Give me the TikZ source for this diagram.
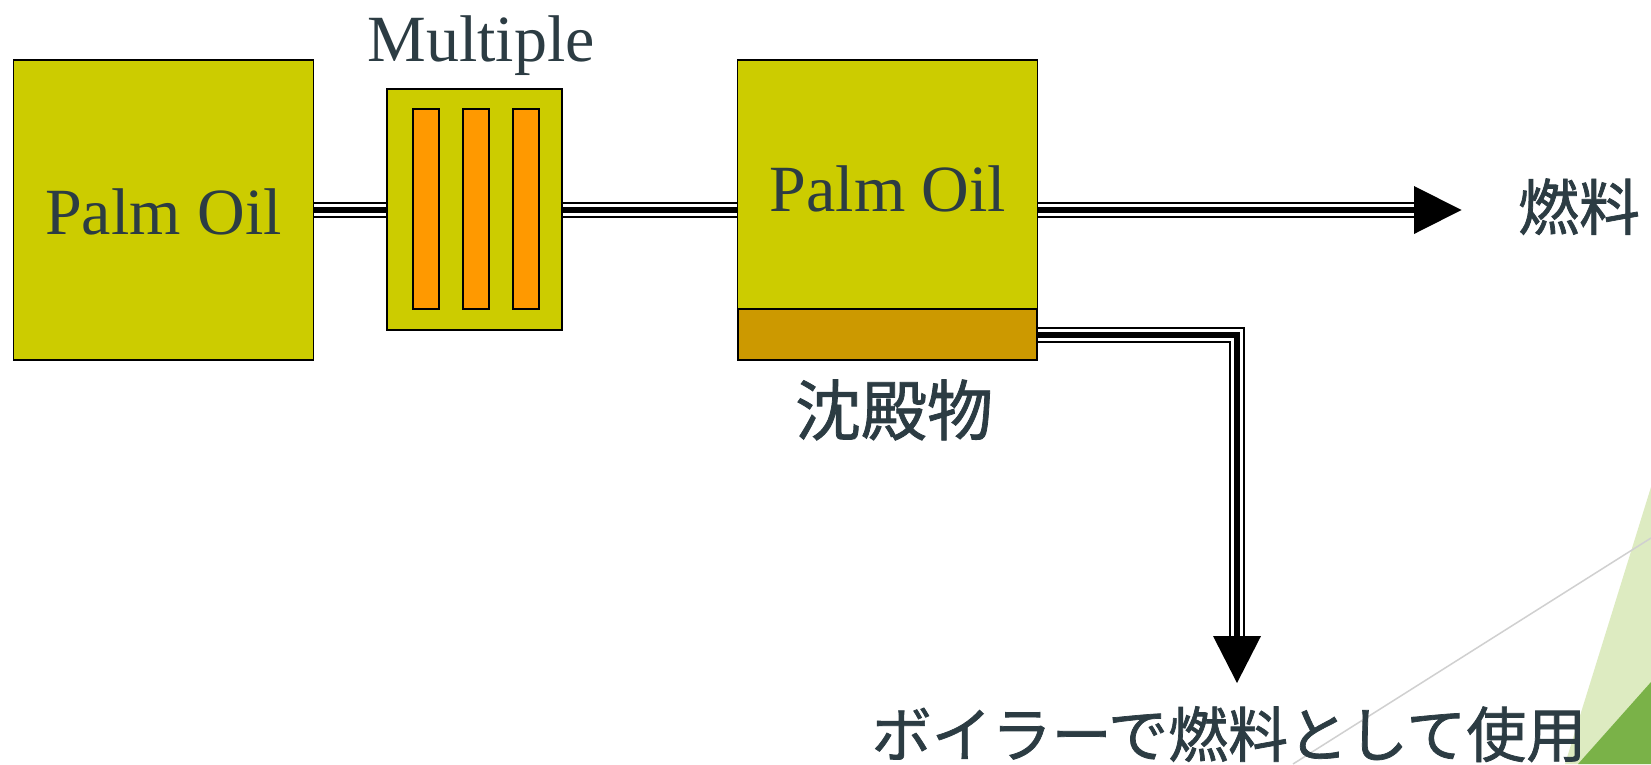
\documentclass[tikz,border=0pt]{standalone}
\usepackage{fontspec}
\setmainfont{Liberation Serif}
\newfontfamily\cjk[FakeBold=1.2]{Noto Sans CJK JP}
\usetikzlibrary{calc}
\definecolor{oilyel}{HTML}{CCCC00}
\definecolor{barorg}{HTML}{FF9900}
\definecolor{sedbrn}{HTML}{CC9900}
\definecolor{txtc}{HTML}{2C3C43}
\definecolor{lgreen}{HTML}{DDEBC1}
\definecolor{dgreen}{RGB}{122,178,72}
\definecolor{lgrey}{HTML}{D0D0D0}
\tikzset{
  vessel/.style={draw=black, line width=1.5pt, fill=oilyel, inner sep=0pt, minimum width=300pt, minimum height=300pt},
  filterbox/.style={draw=black, line width=1.5pt, fill=oilyel, inner sep=0pt, minimum width=175pt, minimum height=241pt},
  fbar/.style={draw=black, line width=1.5pt, fill=barorg, inner sep=0pt, minimum width=26pt, minimum height=200pt},
  sedbox/.style={draw=black, line width=1.5pt, fill=sedbrn, inner sep=0pt, minimum width=299pt, minimum height=51pt},
  serlabel/.style={text=txtc, inner sep=0pt, anchor=base, font=\fontsize{66}{70}\selectfont},
  jplabel/.style={text=txtc, inner sep=0pt, anchor=base, font=\cjk\fontsize{#1}{#1}\selectfont},
  tripipe/.style={draw=black, line width=16pt, line join=miter, line cap=butt,
    postaction={draw=white, line width=12pt, line join=miter},
    postaction={draw=black, line width=6pt, line join=miter}},
  headtip/.style={fill=black, draw=none}
}
\begin{document}
\begin{tikzpicture}[x=1pt,y=-1pt]
\useasboundingbox (0,0) rectangle (1651,764);
\fill[white] (0,0) rectangle (1651,764);
% background decorations
\fill[lgreen] (1651,487) -- (1565,764) -- (1651,764) -- cycle;
\fill[dgreen] (1651,682) -- (1578,764) -- (1651,764) -- cycle;
\draw[lgrey, line width=1.5pt] (1293,764) -- (1651,538);

% boxes
\node[vessel] (box1) at (163.5,210) {};
\node[filterbox] (filt) at (474.5,209.5) {};
\node[fbar] (bar1) at (426,209) {};
\node[fbar] (bar2) at (476,209) {};
\node[fbar] (bar3) at (526,209) {};
\node[vessel] (box3) at (887.5,210) {};
\node[sedbox] (sed) at (887.5,334.5) {};

% labels
\node[serlabel] (t1) at (163.5,234) {Palm Oil};
\node[serlabel] (t3) at (888,211) {Palm Oil};
\node[serlabel] (tm) at (481,61) {Multiple};
\node[jplabel=66] (tsed) at (894,435) {沈殿物};
\node[jplabel=61] (fuel) at (1579,230) {燃料};
\node[jplabel=60] (boiler) at (1229,757) {ボイラーで燃料として使用};

% connectors
\coordinate (fuelhead) at (1414,210);
\coordinate (boilhead) at (1237,636);
\draw[tripipe] (box1.east) -- (filt.west |- box1.east);
\draw[tripipe] (filt.east |- box3.west) -- (box3.west);
\draw[tripipe] (box3.east) -- (fuelhead);
\draw[tripipe] (sed.east) -- (sed.east -| boilhead) -- (boilhead);
\fill[headtip] ($(fuelhead)+(0,-24)$) -- ($(fuelhead)+(47.5,0)$) -- ($(fuelhead)+(0,24)$) -- cycle;
\fill[headtip] ($(boilhead)+(-24,0)$) -- ($(boilhead)+(0,47)$) -- ($(boilhead)+(24,0)$) -- cycle;
\end{tikzpicture}
\end{document}
